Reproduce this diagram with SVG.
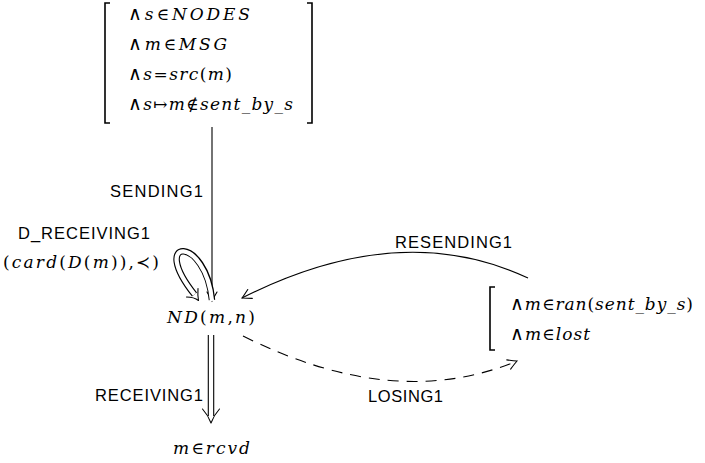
<svg xmlns="http://www.w3.org/2000/svg" width="705" height="463" viewBox="0 0 705 463">
<style>
.m{font-family:"DejaVu Serif","Liberation Serif",serif;font-style:italic;font-size:17px;fill:#000}
.u{font-style:normal}
.w{font-style:normal;font-size:19px}
.l{font-family:"Liberation Sans","DejaVu Sans",sans-serif;font-size:16.5px;fill:#000}
.br{fill:none;stroke:#000;stroke-width:1.6}
.e{fill:none;stroke:#000;stroke-width:1.1}
.dl{fill:none;stroke:#000;stroke-width:6.5}
.dw{fill:none;stroke:#fff;stroke-width:4.3}
.ah{fill:none;stroke:#000;stroke-width:1.1;stroke-linecap:round;stroke-linejoin:round}
</style>
<defs>
<marker id="to" markerUnits="userSpaceOnUse" markerWidth="20" markerHeight="20" refX="0" refY="0" viewBox="-12 -10 14 20" orient="auto" overflow="visible">
<path d="M -9 -5 Q -3 -1.5 0 0 Q -3 1.5 -9 5" fill="none" stroke="#000" stroke-width="1.1" stroke-dasharray="none" stroke-linecap="round"/>
</marker>
</defs>
<g id="connectors">
<path id="sending1" class="e" d="M 212 127 V 301" marker-end="url(#to)"/>
<g id="d_receiving1">
<path class="dl" d="M 212 300 C 206 236, 148 236, 194.5 294.5"/>
<path class="dw" d="M 212 301 C 206 236, 148 236, 194.5 294.5"/>
<path class="ah" d="M 186.5 297 Q 194 297 198.5 300.5 Q 197.5 295 198 288.5"/>
</g>
<g id="receiving1">
<path class="dl" d="M 211 335 V 416"/>
<path class="dw" d="M 211 334 V 416.5"/>
<path class="ah" d="M 202.5 409 Q 208 415 211 423 Q 214 415 219.5 409"/>
</g>
<path id="resending1" class="e" d="M 528 278 Q 400 218 242 298" marker-end="url(#to)"/>
<path id="losing1" class="e" d="M 243 336 Q 395 412 517 361" stroke-dasharray="11 8" marker-end="url(#to)"/>
</g>
<g id="labels">
<text class="l" x="110" y="197" textLength="93">SENDING1</text>
<text class="l" x="18" y="239" textLength="132">D_RECEIVING1</text>
<text class="m" x="3" y="268" textLength="156"><tspan class="u">(</tspan>card<tspan class="u">(</tspan>D<tspan class="u">(</tspan>m<tspan class="u">)),≺)</tspan></text>
<text class="l" x="95" y="401" textLength="108">RECEIVING1</text>
<text class="l" x="395" y="248" textLength="117">RESENDING1</text>
<text class="l" x="368" y="402" textLength="75">LOSING1</text>
</g>
<g id="node-guard">
<path class="br" d="M 110 3 H 105 V 123 H 110"/>
<path class="br" d="M 307 3 H 312 V 123 H 307"/>
<text class="m" x="128" y="20" textLength="122"><tspan class="w">∧</tspan>s<tspan class="u">∈</tspan>NODES</text>
<text class="m" x="128" y="50" textLength="99"><tspan class="w">∧</tspan>m<tspan class="u">∈</tspan>MSG</text>
<text class="m" x="128" y="80" textLength="104"><tspan class="w">∧</tspan>s<tspan class="u">=</tspan>src<tspan class="u">(</tspan>m<tspan class="u">)</tspan></text>
<text class="m" x="128" y="110" textLength="165"><tspan class="w">∧</tspan>s<tspan class="u">↦</tspan>m<tspan class="u">∉</tspan>sent_by_s</text>
</g>
<g id="node-nd">
<text class="m" x="167" y="323" textLength="88">ND<tspan class="u">(</tspan>m<tspan class="u">,</tspan>n<tspan class="u">)</tspan></text>
</g>
<g id="node-rcvd">
<text class="m" x="173" y="454" textLength="77">m<tspan class="u">∈</tspan>rcvd</text>
</g>
<g id="node-lost">
<path class="br" d="M 495 287 H 490 V 350 H 495"/>
<text class="m" x="510" y="310" textLength="183"><tspan class="w">∧</tspan>m<tspan class="u">∈</tspan>ran<tspan class="u">(</tspan>sent_by_s<tspan class="u">)</tspan></text>
<text class="m" x="510" y="340" textLength="80"><tspan class="w">∧</tspan>m<tspan class="u">∈</tspan>lost</text>
</g>
</svg>
